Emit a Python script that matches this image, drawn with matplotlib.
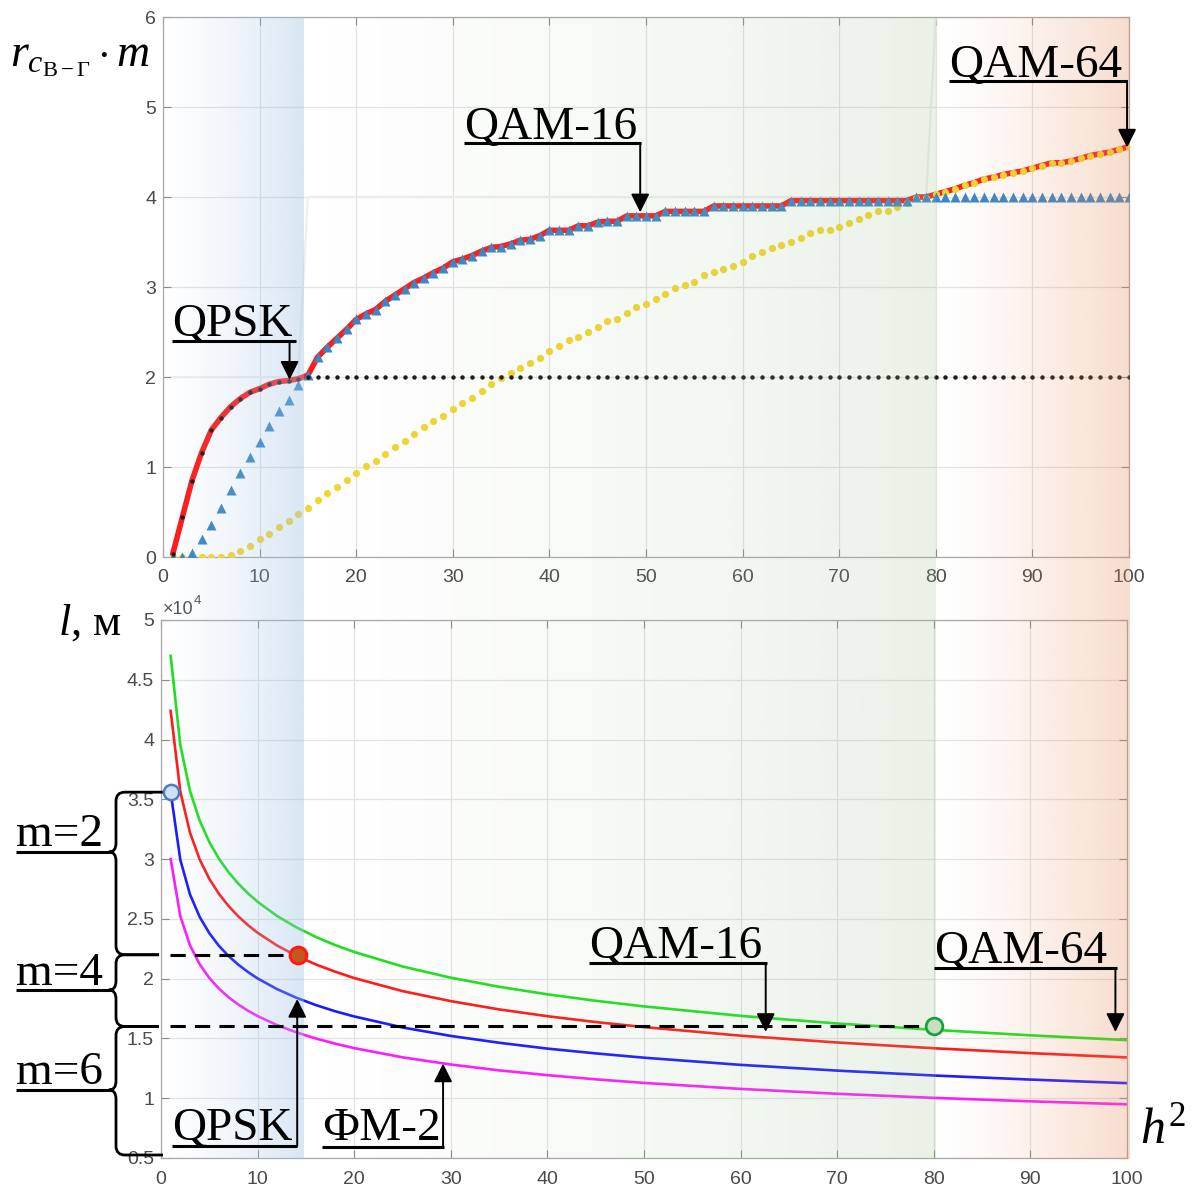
import numpy as np
import matplotlib
matplotlib.use("Agg")
import matplotlib.pyplot as plt
from matplotlib.path import Path
from matplotlib.patches import PathPatch
from matplotlib.transforms import blended_transform_factory

plt.rcParams["mathtext.fontset"] = "custom"
plt.rcParams["mathtext.rm"] = "Liberation Serif"
plt.rcParams["mathtext.it"] = "Liberation Serif:italic"
plt.rcParams["mathtext.bf"] = "Liberation Serif:bold"

# ---------------- data ----------------
h2 = np.arange(1, 101)

# spectral efficiency r*m for each modulation, per h^2 = 1..100
qpsk = [0.03, 0.44, 0.85, 1.16, 1.41, 1.55, 1.67, 1.76, 1.83, 1.87, 1.92, 1.95, 1.96, 1.98] + [2.0] * 86

qam16 = ([0.0, 0.0, 0.05, 0.20, 0.36, 0.55, 0.74, 0.93, 1.11, 1.28, 1.46, 1.62, 1.75, 1.91,
          2.02, 2.22, 2.33, 2.43, 2.53, 2.64, 2.70, 2.75, 2.84, 2.91, 2.98, 3.05, 3.10, 3.16,
          3.21, 3.28, 3.31, 3.35, 3.40, 3.44,
          3.45, 3.48, 3.52, 3.53, 3.57, 3.63, 3.63, 3.63, 3.68, 3.68, 3.72, 3.73, 3.73]
         + [3.79] * 4 + [3.84] * 5 + [3.90] * 8 + [3.96] * 13 + [4.0] * 23)

qam64 = ([0.0] * 6 +
         [0.02, 0.07, 0.12, 0.20, 0.26, 0.33, 0.40, 0.48, 0.55, 0.63, 0.71, 0.78, 0.86, 0.93,
          1.01, 1.07, 1.14, 1.22, 1.29, 1.37, 1.44, 1.51, 1.57, 1.65, 1.71, 1.77, 1.84, 1.92, 1.99,
          2.05, 2.10, 2.16, 2.21, 2.29, 2.35, 2.41, 2.44, 2.50, 2.56, 2.62, 2.65, 2.71, 2.78, 2.81,
          2.87, 2.92, 2.99, 3.02, 3.06, 3.13, 3.17, 3.20, 3.23, 3.28, 3.35, 3.39, 3.43, 3.47, 3.50,
          3.55, 3.60, 3.63, 3.63, 3.67, 3.71, 3.76, 3.80, 3.84, 3.84, 3.89, 3.93, 3.99, 3.99,
          4.03, 4.06, 4.09, 4.13, 4.16, 4.20, 4.22, 4.25, 4.27, 4.29, 4.32, 4.35, 4.38, 4.38,
          4.40, 4.43, 4.46, 4.48, 4.50, 4.53, 4.56])

# bits per symbol of the chosen modulation
m_levels = [2] * 14 + [4] * 65 + [6] * 21

# link length l (units of 10^4 m) versus h^2
h2_l = [1, 2, 3, 4, 5, 6, 7, 8, 9, 10, 12, 14, 16, 18, 20, 25, 30, 35, 40, 45, 50, 60, 70, 80, 90, 100]
l_green = [4.700, 3.952, 3.571, 3.323, 3.143, 3.003, 2.890, 2.795, 2.714, 2.643, 2.525, 2.430, 2.350,
           2.282, 2.223, 2.102, 2.008, 1.932, 1.869, 1.815, 1.768, 1.689, 1.625, 1.572, 1.526, 1.486]
l_red = [4.240, 3.565, 3.222, 2.998, 2.835, 2.709, 2.607, 2.521, 2.448, 2.384, 2.278, 2.192, 2.120,
         2.059, 2.005, 1.896, 1.812, 1.743, 1.686, 1.637, 1.595, 1.523, 1.466, 1.418, 1.377, 1.341]
l_blue = [3.560, 2.994, 2.705, 2.517, 2.381, 2.274, 2.189, 2.117, 2.056, 2.002, 1.913, 1.841, 1.780,
          1.728, 1.684, 1.592, 1.521, 1.464, 1.415, 1.375, 1.339, 1.279, 1.231, 1.190, 1.156, 1.126]
l_magenta = [3.000, 2.523, 2.279, 2.121, 2.006, 1.917, 1.844, 1.784, 1.732, 1.687, 1.612, 1.551, 1.500,
             1.457, 1.419, 1.342, 1.282, 1.233, 1.193, 1.158, 1.128, 1.078, 1.037, 1.003, 0.974, 0.949]

# switching points between modulations
pt_m2 = (1, 3.56)
pt_m4 = (14.2, 2.20)
pt_m6 = (80, 1.60)

top_xticks = list(range(0, 101, 10))
top_yticks = [0, 1, 2, 3, 4, 5, 6]
bot_yticks = [0.5, 1, 1.5, 2, 2.5, 3, 3.5, 4, 4.5, 5]

# ---------------- figure ----------------
W, H = 1194, 1187
fig = plt.figure(figsize=(W / 100, H / 100), dpi=100)


def frame(l, t, r, b):
    return [l / W, 1 - b / H, (r - l) / W, (b - t) / H]


ax1 = fig.add_axes(frame(163, 17, 1129, 557))
ax2 = fig.add_axes(frame(161, 620, 1127, 1158))

for ax in (ax1, ax2):
    ax.set_xlim(0, 100)
    ax.set_xticks(top_xticks)
    ax.grid(True, color="#e3e3e3", lw=0.9)
    ax.set_axisbelow(True)
    ax.tick_params(direction="in", length=6, width=0.8, top=True, right=True,
                   color="#8a8a8a", labelcolor="#4a4a4a", labelsize=14, pad=9)
    for lab in ax.get_xticklabels() + ax.get_yticklabels():
        lab.set_family("Liberation Sans")
    for s in ax.spines.values():
        s.set_color("#a8a8a8")
        s.set_linewidth(0.9)

ax1.set_ylim(0, 6)
ax1.set_yticks(top_yticks)
ax1.tick_params(axis="y", pad=5)
ax2.set_ylim(0.5, 5)
ax2.set_yticks(bot_yticks)
ax2.set_yticklabels(["%g" % v for v in bot_yticks], family="Liberation Sans")
ax2.tick_params(axis="y", pad=5)

# upper panel
envelope = np.maximum(np.maximum(qpsk, qam16), qam64)
ax1.plot(h2, m_levels, color="#eeeeee", lw=1.6, zorder=1)
ax1.plot(h2, envelope, color="#ff1a1a", lw=4.0, zorder=2, solid_capstyle="round")
ax1.plot(h2, qam64, ls="none", marker="o", ms=5.2, color="#f2d630", mec="none", zorder=3)
ax1.plot(h2, qam16, ls="none", marker="^", ms=6.8, color="#3a86c6", mec="none", zorder=4)
ax1.plot(h2, qpsk, ls="none", marker="o", ms=3.2, color="#1a1a1a", mec="none", zorder=5)

# lower panel
ax2.plot(h2_l, l_green, color="#1ee01e", lw=1.9)
ax2.plot(h2_l, l_red, color="#ff1a1a", lw=1.9)
ax2.plot(h2_l, l_blue, color="#1a1aff", lw=1.9)
ax2.plot(h2_l, l_magenta, color="#ff1aff", lw=1.9)

# ---------------- shaded modulation zones ----------------
bands = fig.add_axes([0, 0, 1, 1], zorder=5)
bands.axis("off")
bands.patch.set_alpha(0)


def xpx(ax, x):
    return ax.transData.transform((x, 0))[0]


def zone(x0, x1, rgb, a_max, gamma):
    t = np.linspace(0, 1, 256)
    img = np.zeros((1, 256, 4))
    img[..., :3] = np.array(rgb) / 255.0
    img[0, :, 3] = a_max * t ** gamma
    bands.imshow(img, extent=[xpx(ax1, x0), xpx(ax1, x1), 1159, 17],
                 aspect="auto", interpolation="bilinear")


zone(0, 14.5, (160, 195, 228), 0.40, 1.3)
zone(14.5, 80, (150, 190, 140), 0.20, 1.2)
zone(80, 100, (230, 140, 90), 0.30, 1.3)
bands.set_xlim(0, W)
bands.set_ylim(H, 0)

# ---------------- annotations ----------------
ann = fig.add_axes([0, 0, 1, 1], zorder=10)
ann.set_xlim(0, W)
ann.set_ylim(H, 0)
ann.axis("off")
ann.patch.set_alpha(0)

serif = dict(family="Liberation Serif", fontsize=34, color="black", va="baseline", ha="left")


def tag(text, x, base, ul_y, ul_x0, ul_x1):
    ann.text(x, base, text, **serif)
    ann.plot([ul_x0, ul_x1], [ul_y, ul_y], color="black", lw=2.2, solid_capstyle="butt")


def pointer(ax, x, y, start_py):
    tr = blended_transform_factory(ax.transData, ann.transData)
    ann.annotate("", xy=(x, y), xycoords=ax.transData, xytext=(x, start_py), textcoords=tr,
                 arrowprops=dict(arrowstyle="-|>,head_length=0.4,head_width=0.2",
                                 mutation_scale=28, lw=1.4, color="black",
                                 shrinkA=0, shrinkB=0))


# upper panel labels
tag("QPSK", 172, 336, 341, 172, 296)
pointer(ax1, 13.1, 1.97, 341)
tag("QAM-16", 464, 139, 143, 464, 641)
pointer(ax1, 49.4, 3.83, 143)
tag("QAM-64", 949, 77, 81, 949, 1127)
pointer(ax1, 99.8, 4.55, 81)

# lower panel labels
tag("QAM-16", 589, 958, 963, 589, 767)
pointer(ax2, 62.6, 1.555, 963)
tag("QAM-64", 934, 963, 968, 934, 1117)
pointer(ax2, 98.8, 1.555, 968)
tag("QPSK", 172, 1140, 1146, 172, 297)
pointer(ax2, 14.1, 1.83, 1146)
tag("ФМ-2", 322, 1140, 1147, 322, 444)
pointer(ax2, 29.2, 1.29, 1147)

tag("m=2", 16, 846, 852, 16, 110)
tag("m=4", 16, 985, 990, 16, 110)
tag("m=6", 16, 1084, 1090, 16, 110)


# braces grouping the length ranges
def brace(x, y_top, y_mid, y_bot, x_top_end, x_bot_end, r=9, w=7):
    verts = [(x_top_end, y_top), (x + r, y_top), (x, y_top), (x, y_top + r),
             (x, y_mid - r), (x, y_mid), (x - w, y_mid),
             (x, y_mid), (x, y_mid + r),
             (x, y_bot - r), (x, y_bot), (x + r, y_bot), (x_bot_end, y_bot)]
    codes = [Path.MOVETO, Path.LINETO, Path.CURVE3, Path.CURVE3,
             Path.LINETO, Path.CURVE3, Path.CURVE3,
             Path.CURVE3, Path.CURVE3,
             Path.LINETO, Path.CURVE3, Path.CURVE3, Path.LINETO]
    ann.add_patch(PathPatch(Path(verts, codes), fill=False, lw=2.0, color="black",
                            capstyle="butt", joinstyle="round"))


def ypx(ax, y):
    return H - ax.transData.transform((0, y))[1]


x_m2 = xpx(ax2, pt_m2[0])
y_m2 = ypx(ax2, pt_m2[1])
y_m4 = ypx(ax2, pt_m4[1])
y_m6 = ypx(ax2, pt_m6[1])
y_low = ypx(ax2, 0.5) - 3
x_axis = xpx(ax2, 0)
brace(116, y_m2, 852, y_m4, x_m2, x_axis - 2)
brace(116, y_m4, 990, y_m6, x_axis - 2, x_axis - 2)
brace(116, y_m6, 1090, y_low, x_axis - 2, x_axis + 2)

# threshold levels
ann.plot([0.93, pt_m4[0]], [pt_m4[1], pt_m4[1]], transform=ax2.transData, color="black",
         lw=2.2, ls=(0, (5, 3)), clip_on=False)
ann.plot([0.93, pt_m6[0]], [pt_m6[1], pt_m6[1]], transform=ax2.transData, color="black",
         lw=2.2, ls=(0, (5, 3)), clip_on=False)

ann.plot(*pt_m2, transform=ax2.transData, marker="o", ms=11, mfc="#cfe0f2", mec="#4b7cc0",
         mew=1.8, clip_on=False)
ann.plot(*pt_m4, transform=ax2.transData, marker="o", ms=12, mfc="#c4571b", mec="#ff1a1a",
         mew=2.2, clip_on=False)
ann.plot(*pt_m6, transform=ax2.transData, marker="o", ms=12, mfc="#c6dfc0", mec="#1aa040",
         mew=2.0, clip_on=False)

# axis captions
ann.text(10, 66, r"$r_{c_{\mathrm{В-Г}}}\cdot m$", fontsize=33, va="baseline", ha="left")
ann.text(58, 635, r"$l$, м", family="Liberation Serif", fontsize=32, va="baseline", ha="left")
ann.text(1140, 1143, r"$h^2$", fontsize=36, va="baseline", ha="left")
ann.text(163, 614, "×10", family="Liberation Sans", fontsize=13, color="#555555",
         va="baseline", ha="left")
ann.text(194, 604, "4", family="Liberation Sans", fontsize=9.5, color="#555555",
         va="baseline", ha="left")

fig.savefig("out.png", dpi=100)
